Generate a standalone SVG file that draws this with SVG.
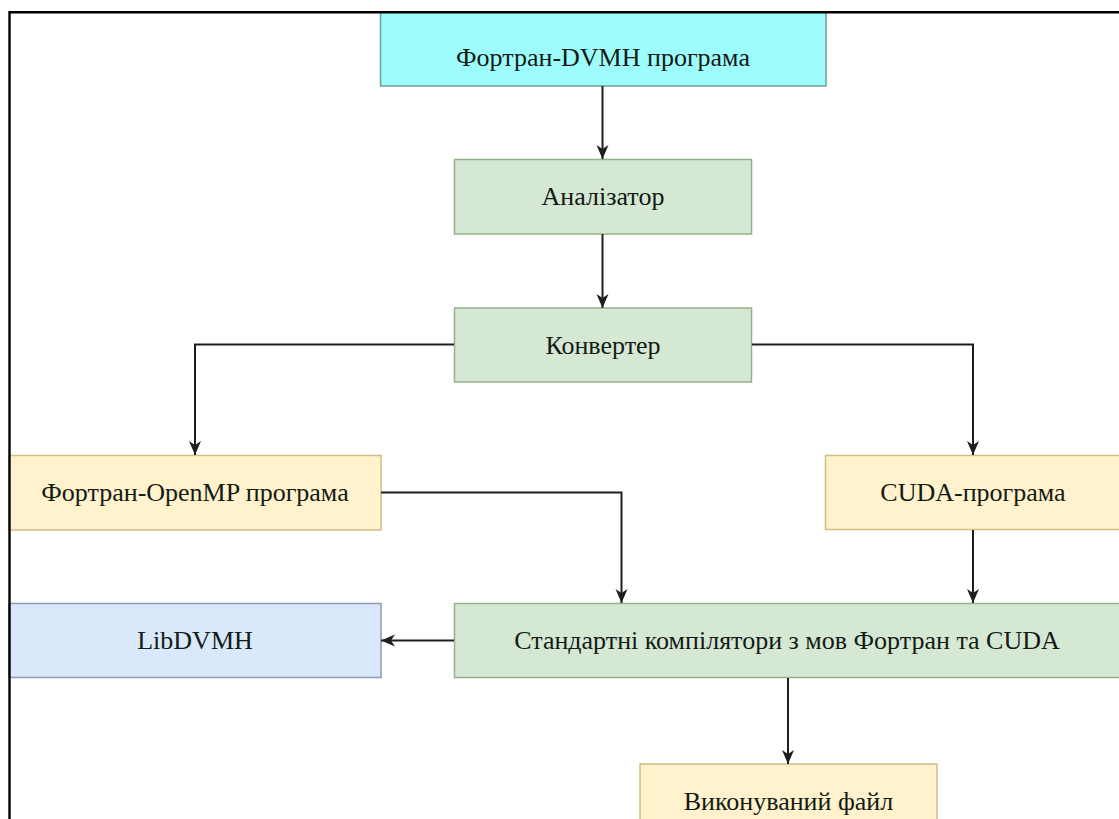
<svg xmlns="http://www.w3.org/2000/svg" width="1119" height="819" viewBox="0 0 1119 819">
<style>
.box{stroke-width:1.5}
.cyan{fill:#9dfdfd;stroke:#6e9c9c}
.green{fill:#d5e8d4;stroke:#95b08a}
.yellow{fill:#fff2cc;stroke:#d2bd84}
.blue{fill:#dae8fc;stroke:#8c9cb4}
.lbl{font-family:"Liberation Serif","Times New Roman",serif;font-size:26px;fill:#141a14;text-anchor:middle}
.edge{fill:none;stroke:#1e1e1e;stroke-width:2}
.frame{fill:none;stroke:#000;stroke-width:2.4}
</style>
<defs>
<marker id="arr" markerUnits="userSpaceOnUse" markerWidth="14" markerHeight="14" viewBox="0 0 14 14" refX="14" refY="7" orient="auto">
<path d="M0,1 L14,7 L0,13 L4,7 Z" fill="#1e1e1e"/>
</marker>
</defs>
<rect width="1119" height="819" fill="#fff"/>
<g id="n-top"><rect class="box cyan" x="380.5" y="12" width="445.5" height="74"/><text class="lbl" x="603" y="65.5">Фортран-DVMH програма</text></g>
<g id="n-analyzer"><rect class="box green" x="454.5" y="159.5" width="297" height="74.5"/><text class="lbl" x="603" y="205">Аналізатор</text></g>
<g id="n-converter"><rect class="box green" x="454.5" y="308" width="297" height="74"/><text class="lbl" x="603" y="353.5">Конвертер</text></g>
<g id="n-openmp"><rect class="box yellow" x="9" y="455.5" width="372" height="74.5"/><text class="lbl" x="195" y="501">Фортран-OpenMP програма</text></g>
<g id="n-cuda"><rect class="box yellow" x="825.5" y="455.5" width="296" height="74"/><text class="lbl" x="973" y="500.5">CUDA-програма</text></g>
<g id="n-lib"><rect class="box blue" x="9" y="603.5" width="372" height="74"/><text class="lbl" x="195" y="649">LibDVMH</text></g>
<g id="n-std"><rect class="box green" x="454.5" y="603.5" width="667" height="74"/><text class="lbl" x="787" y="648.5">Стандартні компілятори з мов Фортран та CUDA</text></g>
<g id="n-exe"><rect class="box yellow" x="640" y="764" width="297" height="76"/><text class="lbl" x="788.5" y="810">Виконуваний файл</text></g>
<g id="connectors">
<path class="edge" marker-end="url(#arr)" d="M602.5,86 L602.5,159"/>
<path class="edge" marker-end="url(#arr)" d="M602.5,234 L602.5,308"/>
<path class="edge" marker-end="url(#arr)" d="M454,344.5 L195,344.5 L195,455"/>
<path class="edge" marker-end="url(#arr)" d="M752,344.5 L973,344.5 L973,455"/>
<path class="edge" marker-end="url(#arr)" d="M381,492.5 L621.5,492.5 L621.5,603"/>
<path class="edge" marker-end="url(#arr)" d="M973,530 L973,603"/>
<path class="edge" marker-end="url(#arr)" d="M454,640.5 L381,640.5"/>
<path class="edge" marker-end="url(#arr)" d="M788,678 L788,764"/>
</g>
<path class="frame" d="M9.5,819 L9.5,12.3 L1119,12.3"/>
</svg>
